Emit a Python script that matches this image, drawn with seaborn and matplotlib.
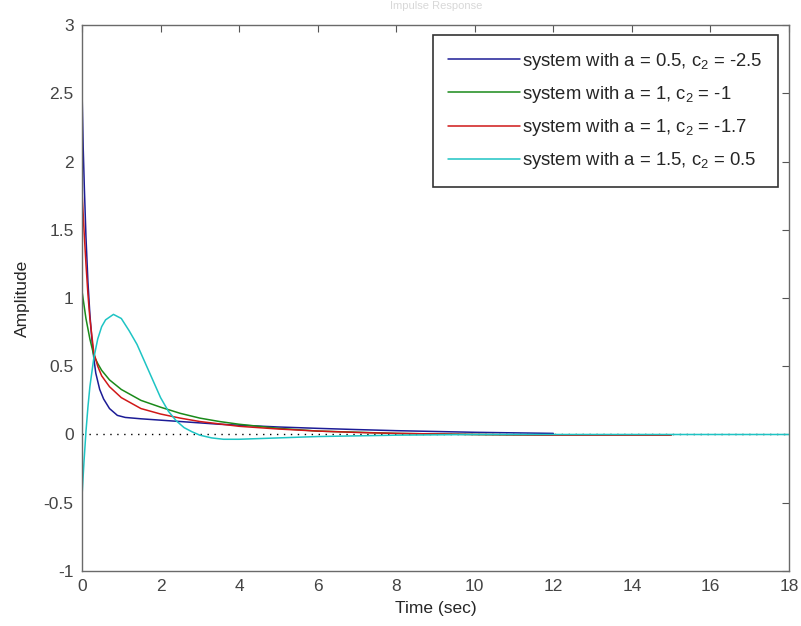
import numpy as np
import pandas as pd
import matplotlib
matplotlib.use("Agg")
import matplotlib.pyplot as plt
import seaborn as sns

# impulse responses
t_blue = [0, 0.03, 0.06, 0.1, 0.15, 0.2, 0.25, 0.3, 0.35, 0.45, 0.55, 0.7, 0.9, 1.1, 1.5,
          2.0, 2.5, 3.0, 3.5, 4.0, 5.0, 6.0, 7.0, 8.0, 9.0, 10.0, 11.0, 12.0]
v_blue = [2.52, 2.1, 1.8, 1.45, 1.12, 0.88, 0.7, 0.56, 0.45, 0.33, 0.26, 0.19, 0.14, 0.125, 0.115,
          0.105, 0.095, 0.085, 0.075, 0.068, 0.055, 0.045, 0.036, 0.028, 0.022, 0.016, 0.012, 0.008]

t_green = [0, 0.05, 0.1, 0.2, 0.3, 0.4, 0.5, 0.7, 1.0, 1.5, 2.0, 2.5, 3.0, 3.5, 4.0,
           5.0, 6.0, 8.0, 10.0, 12.0, 15.0]
v_green = [1.05, 0.95, 0.85, 0.7, 0.58, 0.52, 0.47, 0.4, 0.33, 0.25, 0.2, 0.155, 0.12, 0.095, 0.075,
           0.045, 0.025, 0.008, 0.0, -0.005, -0.005]

t_red = [0, 0.05, 0.1, 0.15, 0.2, 0.3, 0.4, 0.5, 0.7, 1.0, 1.5, 2.0, 2.5, 3.0, 4.0,
         5.0, 6.0, 7.0, 8.0, 10.0, 12.0, 15.0]
v_red = [1.78, 1.5, 1.25, 1.03, 0.85, 0.6, 0.5, 0.43, 0.35, 0.27, 0.19, 0.15, 0.12, 0.095, 0.06,
         0.04, 0.025, 0.015, 0.008, 0.0, -0.005, -0.005]

t_cyan = [0, 0.05, 0.1, 0.15, 0.2, 0.3, 0.4, 0.5, 0.6, 0.8, 1.0, 1.2, 1.4, 1.6, 1.8,
          2.0, 2.2, 2.4, 2.6, 2.8, 3.0, 3.3, 3.6, 4.0, 4.5, 5.0, 6.0, 7.0, 8.0, 10.0, 12.0, 15.0, 18.0]
v_cyan = [-0.45, -0.2, 0.02, 0.2, 0.35, 0.56, 0.7, 0.79, 0.84, 0.88, 0.85, 0.76, 0.66, 0.53, 0.4,
          0.27, 0.17, 0.1, 0.05, 0.02, -0.005, -0.025, -0.035, -0.035, -0.03, -0.025, -0.015, -0.01, -0.005, 0.0, 0.0, 0.0, 0.0]

labels = ["system with a = 0.5, c$_2$ = -2.5",
          "system with a = 1, c$_2$ = -1",
          "system with a = 1, c$_2$ = -1.7",
          "system with a = 1.5, c$_2$ = 0.5"]
colors = ["#1c1c96", "#1a8a1a", "#d01818", "#1ec4c4"]

frames = []
for lab, t, v in zip(labels, [t_blue, t_green, t_red, t_cyan], [v_blue, v_green, v_red, v_cyan]):
    frames.append(pd.DataFrame({"Time": t, "Amplitude": v, "system": lab}))
df = pd.concat(frames, ignore_index=True)

sns.set_style("white")
plt.rcParams["font.family"] = ["Liberation Sans", "DejaVu Sans"]
plt.rcParams["mathtext.fontset"] = "custom"
plt.rcParams["mathtext.rm"] = "Liberation Sans"
plt.rcParams["mathtext.it"] = "Liberation Sans"

fig = plt.figure(figsize=(8.01, 6.26), dpi=100)
ax = fig.add_axes([0.1024, 0.0879, 0.8826, 0.8721])

ax.plot([0, 18], [0, 0], color="black", linestyle=(0, (1, 4)), linewidth=1)
sns.lineplot(data=df, x="Time", y="Amplitude", hue="system", palette=colors,
             estimator=None, sort=False, linewidth=1.1, ax=ax)

ax.set_xlim(0, 18)
ax.set_ylim(-1, 3)
ax.set_xticks(np.arange(0, 19, 2))
ax.set_yticks(np.arange(-1, 3.01, 0.5))
ax.set_yticklabels(["-1", "-0.5", "0", "0.5", "1", "1.5", "2", "2.5", "3"])
ax.tick_params(direction="in", length=5, top=True, right=True, labelsize=12.5, pad=6,
               labelcolor="#444444", color="#555555", width=0.8)
for s in ax.spines.values():
    s.set_color("#6a6a6a")
    s.set_linewidth(1)
ax.set_xlabel("Time (sec)", fontsize=12.5, labelpad=5)
ax.set_ylabel("Amplitude", fontsize=12.5, labelpad=10)

leg = ax.legend(loc="upper right", fontsize=13.3, frameon=True, fancybox=False,
                edgecolor="black", handlelength=3.9, borderpad=0.85, labelspacing=0.66,
                handletextpad=0.1, borderaxespad=0, bbox_to_anchor=(0.985, 0.9817))
leg.get_frame().set_linewidth(1.2)

fig.text(0.545, 0.999, "Impulse Response", ha="center", va="top", fontsize=8, color="#d8d8d8")

fig.savefig("out.png", dpi=100)
